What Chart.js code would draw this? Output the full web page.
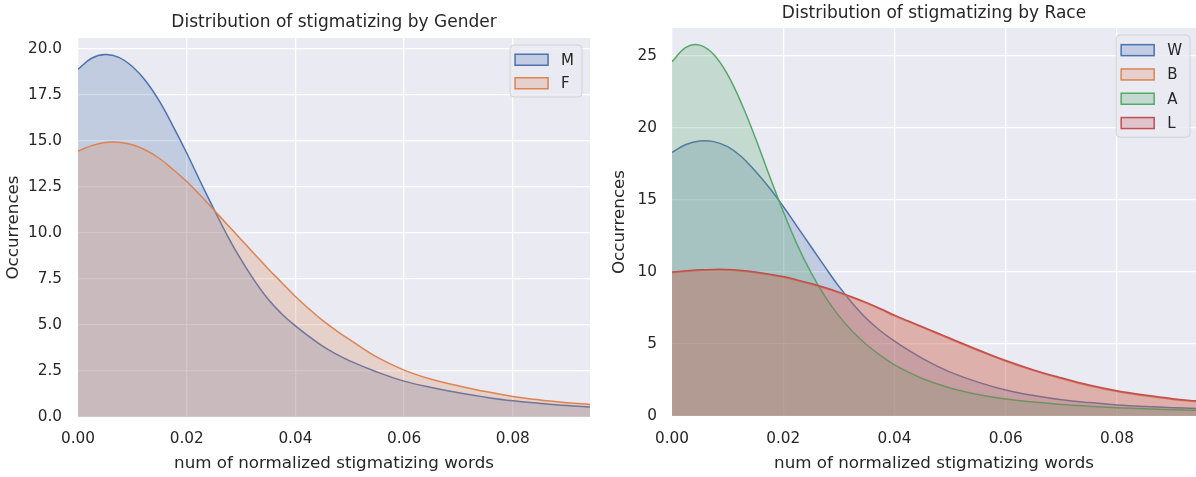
<!DOCTYPE html>
<html lang="en">
<head>
  <meta charset="UTF-8" />
  <title>Distribution of stigmatizing</title>
  <script src="https://cdn.jsdelivr.net/npm/chart.js"></script>
  <style>
    body { margin: 0; background: #fff; }
    .panel { position: absolute; top: 0; height: 477px; }
  </style>
</head>
<body>
  <div class="panel" style="left:0;width:600px"><canvas id="genderChart" width="600" height="477"></canvas></div>
  <div class="panel" style="left:600px;width:596px"><canvas id="raceChart" width="596" height="477"></canvas></div>

  <script>
    const xValues = [0, 0.0025, 0.005, 0.0075, 0.01, 0.0125, 0.015, 0.0175, 0.02, 0.0225,
                     0.025, 0.0275, 0.03, 0.0325, 0.035, 0.0375, 0.04, 0.0425, 0.045, 0.0475,
                     0.05, 0.055, 0.06, 0.065, 0.07, 0.075, 0.08, 0.085, 0.09, 0.0942];

    // gender panel
    const genderLabels = ['M', 'F'];
    const genderM = [18.9, 19.5, 19.7, 19.55, 19.05, 18.25, 17.15, 15.8, 14.35, 12.8,
                     11.3, 9.85, 8.55, 7.4, 6.4, 5.6, 4.95, 4.38, 3.85, 3.42,
                     3.05, 2.45, 1.95, 1.6, 1.32, 1.08, 0.88, 0.74, 0.62, 0.55];
    const genderF = [14.45, 14.75, 14.92, 14.93, 14.8, 14.5, 14.05, 13.45, 12.8, 12.05,
                     11.25, 10.45, 9.65, 8.85, 8.05, 7.3, 6.55, 5.88, 5.25, 4.7,
                     4.2, 3.25, 2.55, 2.05, 1.7, 1.38, 1.12, 0.93, 0.78, 0.68];

    // race panel
    const raceLabels = ['W', 'B', 'A', 'L'];
    const raceW = [18.3, 18.85, 19.1, 19.05, 18.7, 18.0, 17.0, 15.85, 14.55, 13.15,
                   11.75, 10.35, 9.0, 7.8, 6.75, 5.9, 5.2, 4.57, 4.0, 3.5,
                   3.05, 2.35, 1.8, 1.42, 1.13, 0.93, 0.77, 0.66, 0.58, 0.52];
    const raceB = [9.95, 10.03, 10.1, 10.13, 10.12, 10.05, 9.95, 9.8, 9.63, 9.4,
                   9.15, 8.87, 8.55, 8.2, 7.82, 7.4, 6.95, 6.55, 6.15, 5.75,
                   5.35, 4.55, 3.8, 3.15, 2.6, 2.1, 1.7, 1.4, 1.15, 1.0];
    const raceA = [24.6, 25.6, 25.75, 25.1, 23.7, 21.7, 19.3, 16.7, 14.2, 11.9,
                   9.95, 8.3, 6.95, 5.85, 4.95, 4.2, 3.55, 3.05, 2.6, 2.25,
                   1.95, 1.5, 1.18, 0.97, 0.8, 0.68, 0.58, 0.5, 0.44, 0.4];
    const raceL = [10.0, 10.08, 10.15, 10.18, 10.17, 10.1, 10.0, 9.85, 9.68, 9.45,
                   9.2, 8.92, 8.6, 8.25, 7.87, 7.45, 7.0, 6.6, 6.2, 5.8,
                   5.4, 4.6, 3.85, 3.2, 2.65, 2.15, 1.75, 1.45, 1.2, 1.05];

    const xMax = 0.0942;
    const genderYMax = 20.6;
    const raceYMax = 26.94;

    const COLORS = {
      blue: '#4C72B0', orange: '#DD8452', green: '#55A868', red: '#C44E52'
    };
    const FONT = '"DejaVu Sans", "Liberation Sans", sans-serif';
    const TEXT = '#262626';

    function alpha(hex, a) {
      const n = parseInt(hex.slice(1), 16);
      return `rgba(${n >> 16}, ${(n >> 8) & 255}, ${n & 255}, ${a})`;
    }

    // order: lower number is drawn later (on top), like the later hue levels
    function series(label, values, color, order) {
      return {
        label,
        data: xValues.map((x, i) => ({ x, y: values[i] })),
        borderColor: color,
        backgroundColor: alpha(color, 0.25),
        borderWidth: 1.5,
        fill: 'origin',
        pointRadius: 0,
        tension: 0.4,
        order
      };
    }

    // seaborn darkgrid background
    const bgPlugin = {
      id: 'plotBg',
      beforeDraw(chart) {
        const { ctx, chartArea: a } = chart;
        ctx.save();
        ctx.fillStyle = '#EAEAF2';
        ctx.fillRect(a.left, a.top, a.right - a.left, a.bottom - a.top);
        ctx.restore();
      }
    };

    // matplotlib-style legend box in the upper right of the plot
    const boxLegend = {
      id: 'boxLegend',
      afterDraw(chart, args, opts) {
        const { ctx, chartArea: a } = chart;
        const sets = chart.data.datasets;
        ctx.save();
        ctx.font = `15px ${FONT}`;
        const textW = Math.max(...sets.map(d => ctx.measureText(d.label).width));
        const rowH = opts.rowH;
        const w = 5 + 33 + 13 + textW + 8;
        const h = sets.length * rowH + 5;
        const x0 = a.right - opts.right - w;
        const y0 = a.top + opts.top;

        ctx.beginPath();
        ctx.roundRect(x0, y0, w, h, 4);
        ctx.fillStyle = 'rgba(234,234,242,0.8)';
        ctx.fill();
        ctx.strokeStyle = 'rgba(204,204,204,0.8)';
        ctx.lineWidth = 1;
        ctx.stroke();

        sets.forEach((d, i) => {
          const cy = y0 + 3 + rowH * i + rowH / 2;
          ctx.fillStyle = d.backgroundColor;
          ctx.fillRect(x0 + 5, cy - 5.5, 33, 11);
          ctx.strokeStyle = d.borderColor;
          ctx.lineWidth = 1.5;
          ctx.strokeRect(x0 + 5, cy - 5.5, 33, 11);
          ctx.fillStyle = TEXT;
          ctx.textBaseline = 'middle';
          ctx.fillText(d.label, x0 + 5 + 33 + 13, cy + 1);
        });
        ctx.restore();
      }
    };

    function makeChart(id, cfg) {
      const tickFont = { family: FONT, size: 15.3 };
      const labelFont = { family: FONT, size: 16.7 };
      return new Chart(document.getElementById(id), {
        type: 'line',
        data: { datasets: cfg.datasets },
        options: {
          responsive: false,
          animation: false,
          layout: { padding: { left: 0, right: cfg.padRight, top: 0, bottom: 0 } },
          plugins: {
            legend: { display: false },
            tooltip: { enabled: false },
            title: {
              display: true,
              text: cfg.title,
              fullSize: false,
              color: TEXT,
              font: { family: FONT, size: 17, weight: 'normal' },
              padding: cfg.titlePad
            },
            boxLegend: cfg.legend
          },
          scales: {
            x: {
              type: 'linear',
              min: 0,
              max: xMax,
              grid: { color: '#ffffff', lineWidth: 1.3, drawTicks: false },
              border: { display: false },
              ticks: {
                stepSize: 0.02,
                includeBounds: false,
                padding: cfg.xTickPad,
                color: TEXT,
                font: tickFont,
                maxRotation: 0,
                callback: v => v.toFixed(2)
              },
              title: {
                display: true,
                text: 'num of normalized stigmatizing words',
                color: TEXT,
                font: labelFont,
                padding: { top: 0, bottom: 3 }
              },
              afterFit: s => { s.height = cfg.xAxisH; }
            },
            y: {
              min: 0,
              max: cfg.yMax,
              grid: { color: '#ffffff', lineWidth: 1.3, drawTicks: false },
              border: { display: false },
              ticks: {
                stepSize: cfg.yStep,
                includeBounds: false,
                padding: cfg.yTickPad,
                color: TEXT,
                font: tickFont,
                callback: cfg.yFormat
              },
              title: {
                display: true,
                text: 'Occurrences',
                color: TEXT,
                font: labelFont,
                padding: { top: cfg.yTitlePad, bottom: 0 }
              },
              afterFit: s => { s.width = cfg.yAxisW; }
            }
          }
        },
        plugins: [bgPlugin, boxLegend]
      });
    }

    makeChart('genderChart', {
      title: 'Distribution of stigmatizing by Gender',
      datasets: [
        series(genderLabels[0], genderM, COLORS.blue, 1),
        series(genderLabels[1], genderF, COLORS.orange, 0)
      ],
      yMax: genderYMax,
      yStep: 2.5,
      yFormat: v => v.toFixed(1),
      padRight: 10,
      titlePad: { top: 12.8, bottom: 4.8 },
      xTickPad: 13,
      xAxisH: 60,
      yTickPad: 16,
      yTitlePad: 4,
      yAxisW: 78,
      legend: { top: 7, right: 8, rowH: 23.5 }
    });

    makeChart('raceChart', {
      title: 'Distribution of stigmatizing by Race',
      datasets: [
        series(raceLabels[0], raceW, COLORS.blue, 3),
        series(raceLabels[1], raceB, COLORS.orange, 2),
        series(raceLabels[2], raceA, COLORS.green, 1),
        series(raceLabels[3], raceL, COLORS.red, 0)
      ],
      yMax: raceYMax,
      yStep: 5,
      yFormat: v => v.toFixed(0),
      padRight: 0,
      titlePad: { top: 3, bottom: 4.6 },
      xTickPad: 13.8,
      xAxisH: 61,
      yTickPad: 15,
      yTitlePad: 10,
      yAxisW: 72,
      legend: { top: 7, right: 6, rowH: 24.3 }
    });
  </script>
</body>
</html>
